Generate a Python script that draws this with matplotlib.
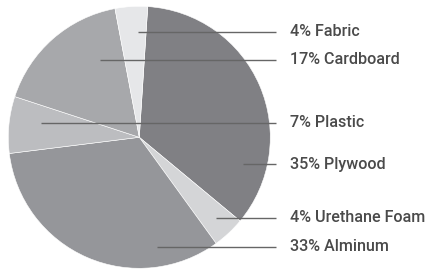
import matplotlib
matplotlib.use("Agg")
import matplotlib.pyplot as plt

# material share of the total (%), clockwise from the top
materials = ["Plywood", "Urethane Foam", "Alminum", "Plastic", "Cardboard", "Fabric"]
shares = [35, 4, 33, 7, 17, 4]
colors = ["#808084", "#d4d5d7", "#95969a", "#bcbdc0", "#a7a8ab", "#e6e7e9"]

# label layout, top to bottom (pixel rows and leader line starts)
label_order = ["Fabric", "Cardboard", "Plastic", "Plywood", "Urethane Foam", "Alminum"]
label_rows = [31.7, 60, 122.7, 164, 218, 246.7]
line_starts = [138, 100, 41, 243, 216, 157]

W, H = 426, 269
fig = plt.figure(figsize=(W / 100, H / 100), dpi=100)
ax = fig.add_axes([0, 0, 1, 1])

cx, cy, r = 139.3, H - 137.3, 131
ax.pie(shares, colors=colors, startangle=86.3, counterclock=False,
       center=(cx, cy), radius=r, frame=True,
       wedgeprops=dict(edgecolor="white", linewidth=0.4))
ax.set_xlim(0, W)
ax.set_ylim(0, H)
ax.set_aspect("equal")
ax.axis("off")

for name, row, x0 in zip(label_order, label_rows, line_starts):
    y = H - row
    pct = shares[materials.index(name)]
    ax.plot([x0, 276], [y, y], color="#666666", linewidth=1.0, solid_capstyle="butt")
    ax.text(290.5, y, f"{pct}% {name}", fontsize=11.6, family="Roboto",
            fontweight="medium", color="#4a4a4a", va="center", ha="left")

fig.savefig("out.png", dpi=100)
